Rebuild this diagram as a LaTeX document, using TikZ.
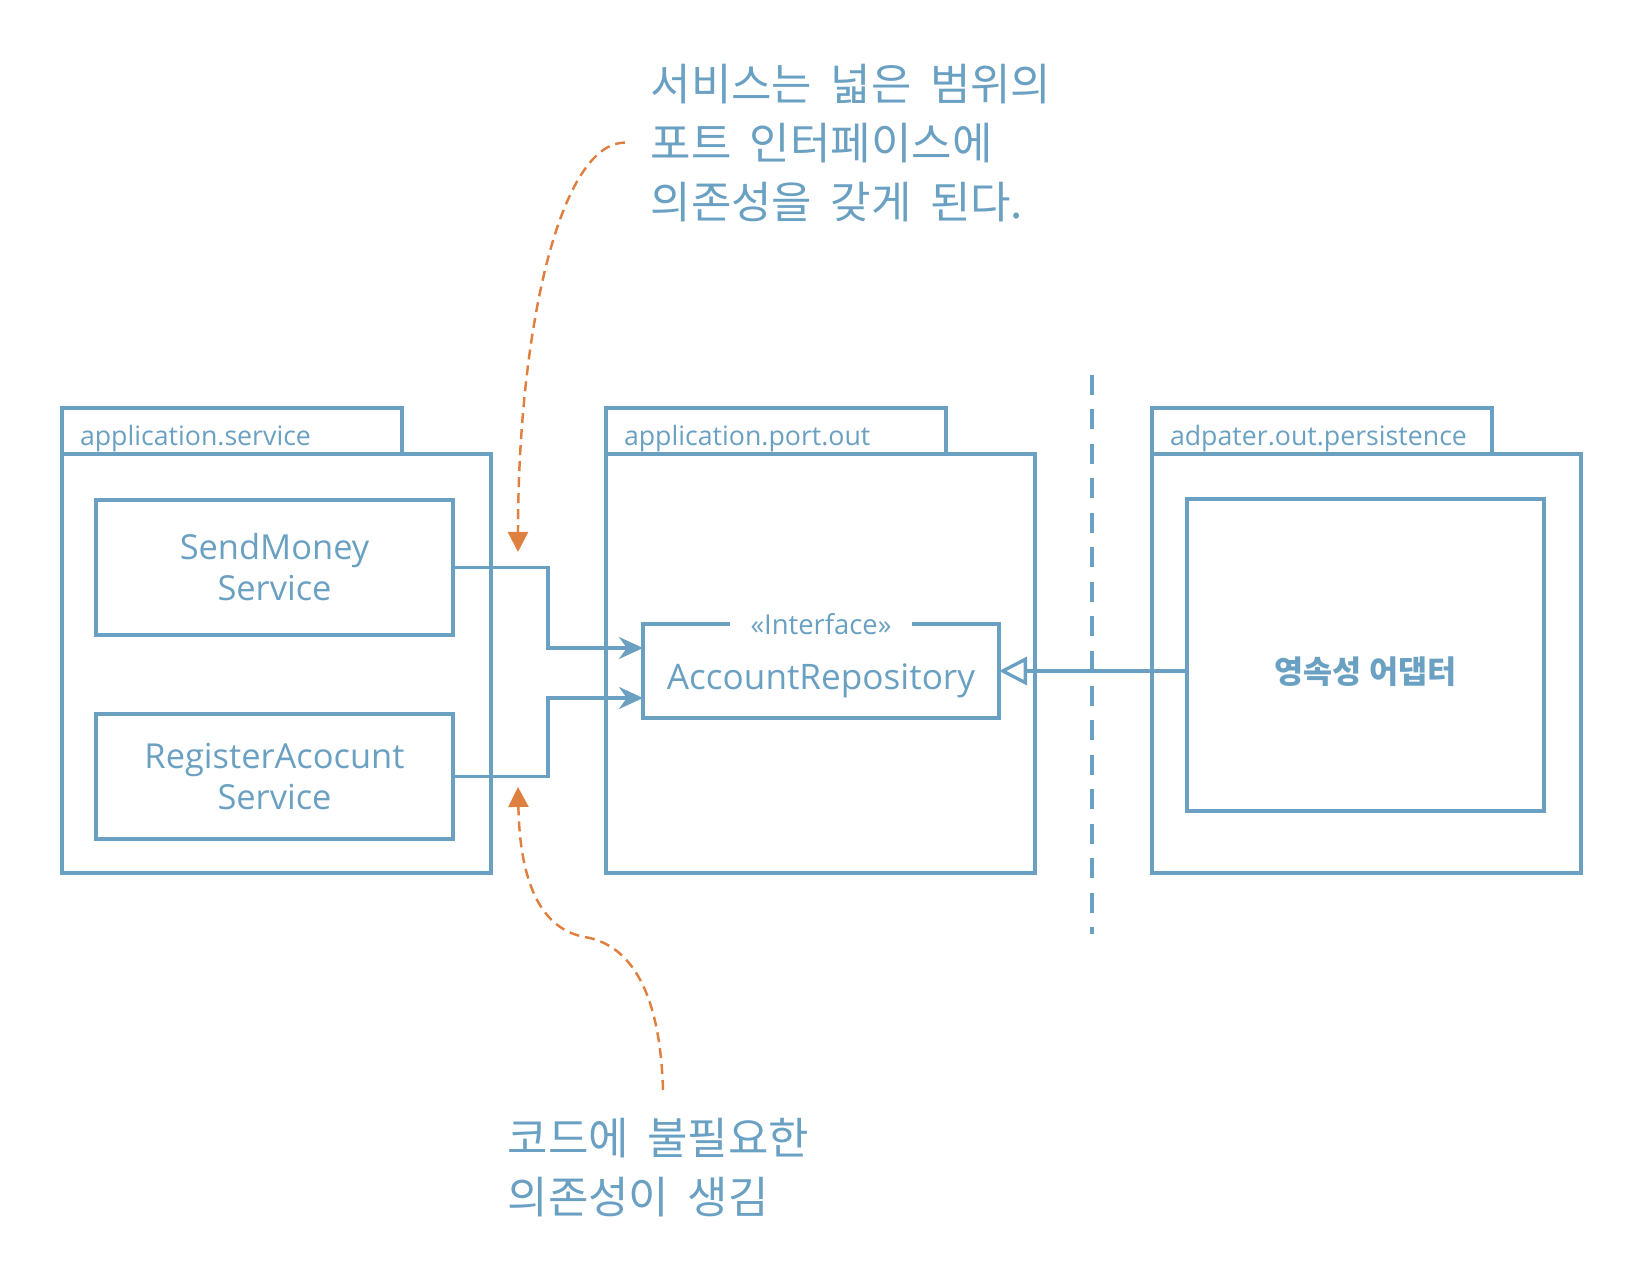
\documentclass[tikz,border=0pt]{standalone}
\usepackage{fontspec}
\setmainfont{Open Sans}
\newfontfamily\kr{Noto Sans CJK KR}
\newcommand\krnote{\kr\fontsize{12.5}{16.8}\selectfont\spaceskip=0.42em\relax}
\usepackage{tikz}
\usetikzlibrary{positioning,arrows.meta}
\definecolor{pkgblue}{RGB}{106,160,194}
\definecolor{noteorange}{RGB}{224,128,64}

\begin{document}
\begin{tikzpicture}[pkg/.style={draw=pkgblue,line width=1.3pt,outer sep=0pt,inner sep=0pt,minimum width=4.29cm,minimum height=4.19cm},
		pkgtab/.style={draw=pkgblue,line width=1.3pt,outer sep=0pt,inner xsep=0.18cm,inner ysep=0pt,minimum width=3.40cm,minimum height=0.46cm,text width=3.04cm,align=left,text=pkgblue,font=\fontsize{7.6}{9}\selectfont,text height=8pt,text depth=0pt},
		cls/.style={draw=pkgblue,line width=1.3pt,outer sep=0pt,minimum width=3.57cm,text=pkgblue,align=center,font=\fontsize{9.8}{11.7}\selectfont},
		dep/.style={draw=pkgblue,line width=0.95pt,-{Stealth[length=0.24cm,width=0.22cm]}},
		note/.style={text=pkgblue,align=left,anchor=north west,inner sep=0pt,font=\krnote},
		hint/.style={draw=noteorange,line width=0.7pt,dash pattern=on 1mm off 0.6mm,-{Triangle[length=0.2cm,width=0.2cm]}},
		node distance=1.15cm]
				\useasboundingbox (0,0) rectangle (16.32,-12.74);
				
				\node[pkg,anchor=north west] (svcpkg) at (0.62,-4.54) {};
				\node[pkg] (portpkg) [right=of svcpkg] {};
				\node[pkg] (adppkg) [right=1.17cm of portpkg] {};
				\node[pkgtab,anchor=south west] (svctab) at (svcpkg.north west) {application.service};
				\node[pkgtab,anchor=south west] (porttab) at (portpkg.north west) {application.port.out};
				\node[pkgtab,anchor=south west] (adptab) at (adppkg.north west) {adpater.out.persistence};
				
				\node[cls,minimum height=1.35cm] (send) [below right=0.46cm and 0.34cm of svcpkg.north west] {SendMoney\\Service};
				\node[cls,minimum height=1.25cm] (register) [below=0.79cm of send] {RegisterAcocunt\\Service};
				\node[cls,minimum width=3.56cm,minimum height=0.94cm,font=\fontsize{10}{12}\selectfont,text height=10.5pt,text depth=0pt] (repo) [below right=1.70cm and 0.37cm of portpkg.north west] {AccountRepository};
				\node[fill=white,text=pkgblue,inner xsep=0.21cm,inner ysep=0pt,font=\fontsize{7.8}{9}\selectfont] (stereo) at (repo.north) {«Interface»};
				\node[cls,minimum height=3.12cm,font=\kr\bfseries\fontsize{9}{10}\selectfont,text height=16.5pt,text depth=0pt] (adapter) [below right=0.45cm and 0.35cm of adppkg.north west] {영속성 어댑터};
				
				\draw[dep] (send.east) -- ++(0.95,0) |- ([yshift=0.23cm]repo.west);
				\draw[dep] (register.east) -- ++(0.95,0) |- ([yshift=-0.27cm]repo.west);
				\draw[draw=pkgblue,line width=0.95pt,-{Triangle[open,length=0.28cm,width=0.28cm,fill=white]}] (adapter.west |- repo.east) -- (repo.east);
				
				\coordinate (sepTop) at (10.92,-3.75);
				\coordinate (sepBot) at (10.92,-9.34);
				\draw[draw=pkgblue,line width=1.4pt,dash pattern=on 0.2cm off 0.145cm] (sepTop) -- (sepBot);
				
				\node[note] (topnote) at (6.50,-0.63) {서비스는 넓은 범위의\\포트 인터페이스에\\의존성을 갖게 된다.};
				\node[note] (botnote) at (5.07,-11.17) {코드에 불필요한\\의존성이 생김};
				\coordinate (topTip) at (5.18,-5.52);
				\coordinate (botTip) at (5.18,-7.87);
				\draw[hint] ([xshift=-0.25cm]topnote.west) .. controls +(-0.65,0) and (5.18,-3.30) .. (topTip);
				\draw[hint] ([xshift=1.56cm,yshift=0.27cm]botnote.north west) .. controls +(-0.03,1.0) and (6.30,-9.45) .. (5.85,-9.37) .. controls (5.45,-9.30) and (5.20,-8.90) .. (botTip);
			\end{tikzpicture}
\end{document}
